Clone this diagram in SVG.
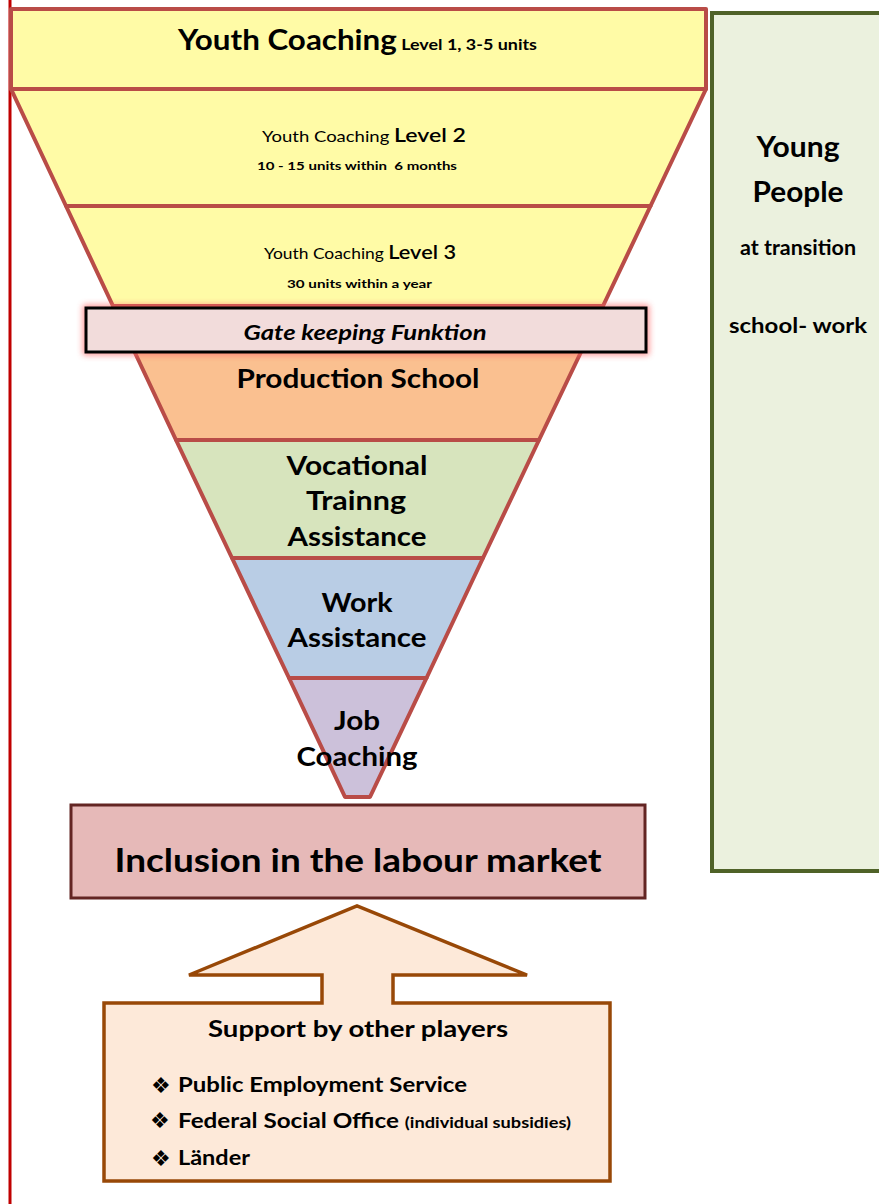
<svg xmlns="http://www.w3.org/2000/svg" width="879" height="1204" viewBox="0 0 879 1204">
<style>
text{font-family:Lato,"Open Sans","Liberation Sans",sans-serif;fill:#000}
.b{font-weight:bold}
.fun{stroke:#b94c47;stroke-width:4;stroke-linejoin:round}
.big{font-size:27px;font-weight:bold;text-anchor:middle}
.pre{white-space:pre}
.bul{font-family:"DejaVu Sans",sans-serif;font-size:22px}
</style>
<defs>
<filter id="glow" x="-10%" y="-50%" width="120%" height="200%">
<feGaussianBlur stdDeviation="3"/>
</filter>
</defs>
<rect width="879" height="1204" fill="#fff"/>
<line x1="10" y1="0" x2="10" y2="1204" stroke="#c00000" stroke-width="3"/>

<g id="young-people">
<rect x="712" y="13" width="180" height="858" fill="#ebf1de" stroke="#4f6228" stroke-width="4"/>
<text x="798" y="157" class="b" font-size="28" text-anchor="middle" textLength="83" lengthAdjust="spacingAndGlyphs">Young</text>
<text x="798" y="202" class="b" font-size="28" text-anchor="middle" textLength="91" lengthAdjust="spacingAndGlyphs">People</text>
<text x="798" y="255" class="b" font-size="20" text-anchor="middle" textLength="116" lengthAdjust="spacingAndGlyphs">at transition</text>
<text x="798" y="333" class="b" font-size="20" text-anchor="middle" textLength="138" lengthAdjust="spacingAndGlyphs">school- work</text>
</g>

<g id="level1">
<rect x="11" y="9" width="695" height="80" fill="#fffba6" class="fun"/>
<text x="178" y="50" class="b" textLength="359" lengthAdjust="spacingAndGlyphs"><tspan font-size="28">Youth Coaching</tspan><tspan font-size="16"> Level 1, 3-5 units</tspan></text>
</g>

<g id="level2">
<polygon points="11,89 706,89 650.5,206 66,206" fill="#fffba6" class="fun"/>
<text x="262" y="142" textLength="204" lengthAdjust="spacingAndGlyphs"><tspan font-size="16">Youth Coaching </tspan><tspan font-size="20" font-weight="600">Level 2</tspan></text>
<text x="257" y="170" class="b pre" font-size="12" textLength="200" lengthAdjust="spacingAndGlyphs">10 - 15 units within  6 months</text>
</g>

<g id="level3">
<polygon points="66,206 650.5,206 603,306 113,306" fill="#fffba6" class="fun"/>
<text x="264" y="259" textLength="192" lengthAdjust="spacingAndGlyphs"><tspan font-size="16">Youth Coaching </tspan><tspan font-size="20" font-weight="600">Level 3</tspan></text>
<text x="287" y="288" class="b" font-size="12" textLength="145" lengthAdjust="spacingAndGlyphs">30 units within a year</text>
</g>

<g id="production-school">
<polygon points="113,306 603,306 539,440 176,440" fill="#fac090" class="fun"/>
<text x="358" y="388" class="big" textLength="243" lengthAdjust="spacingAndGlyphs">Production School</text>
</g>

<g id="gate-keeping">
<rect x="86" y="308" width="560" height="44" fill="none" stroke="#ff6a6a" stroke-width="6" filter="url(#glow)" opacity="0.8"/>
<rect x="86" y="308" width="560" height="44" fill="#f2dcdb" stroke="#000" stroke-width="3"/>
<text x="365" y="340" class="b" font-style="italic" font-size="20" text-anchor="middle" textLength="243" lengthAdjust="spacingAndGlyphs">Gate keeping Funktion</text>
</g>

<g id="vocational">
<polygon points="176,440 539,440 483,558 232,558" fill="#d7e4bd" class="fun"/>
<text x="357" y="475" class="big" textLength="141" lengthAdjust="spacingAndGlyphs">Vocational</text>
<text x="356" y="510" class="big" textLength="100" lengthAdjust="spacingAndGlyphs">Trainng</text>
<text x="357" y="546" class="big" textLength="139" lengthAdjust="spacingAndGlyphs">Assistance</text>
</g>

<g id="work">
<polygon points="232,558 483,558 426.5,678 289,678" fill="#b9cde5" class="fun"/>
<text x="357" y="612" class="big" textLength="71" lengthAdjust="spacingAndGlyphs">Work</text>
<text x="357" y="647" class="big" textLength="139" lengthAdjust="spacingAndGlyphs">Assistance</text>
</g>

<g id="job-coaching">
<polygon points="289,678 426.5,678 370,797 345,797" fill="#ccc1da" class="fun"/>
<text x="357" y="730" class="big" textLength="46" lengthAdjust="spacingAndGlyphs">Job</text>
<text x="357" y="766" class="big" textLength="121" lengthAdjust="spacingAndGlyphs">Coaching</text>
</g>

<g id="inclusion">
<rect x="71" y="805" width="574" height="93" fill="#e6b9b8" stroke="#632523" stroke-width="3"/>
<text x="358" y="872" class="b" font-size="32" text-anchor="middle" textLength="487" lengthAdjust="spacingAndGlyphs">Inclusion in the labour market</text>
</g>

<g id="connectors">
</g>

<g id="support">
<path d="M104,1003 L322,1003 L322,975 L189,975 L357,906 L527,975 L393,975 L393,1003 L610,1003 L610,1181 L104,1181 Z" fill="#fde9d9" stroke="#984807" stroke-width="3.5" stroke-linejoin="miter"/>
<text x="358" y="1037" class="b" font-size="22" text-anchor="middle" textLength="300" lengthAdjust="spacingAndGlyphs">Support by other players</text>
<text x="151" y="1093" class="bul">❖</text>
<text x="178" y="1092" class="b" font-size="20" textLength="289" lengthAdjust="spacingAndGlyphs">Public Employment Service</text>
<text x="150" y="1128" class="bul" font-size="17">❖</text>
<text x="178" y="1128" class="b" textLength="393" lengthAdjust="spacingAndGlyphs"><tspan font-size="20">Federal Social Office </tspan><tspan font-size="15">(individual subsidies)</tspan></text>
<text x="151" y="1166" class="bul">❖</text>
<text x="178" y="1165" class="b" font-size="20" textLength="72" lengthAdjust="spacingAndGlyphs">Länder</text>
</g>
</svg>
